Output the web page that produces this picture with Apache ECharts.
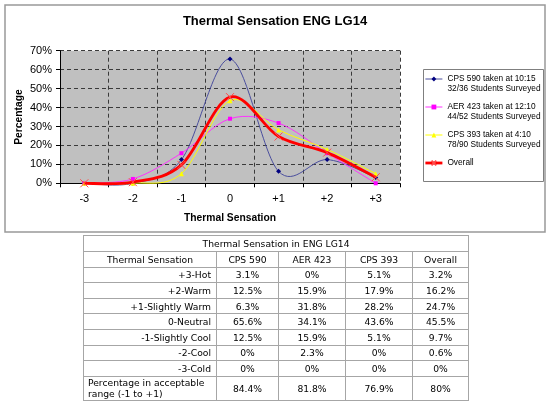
<!DOCTYPE html>
<html>
<head>
<meta charset="utf-8">
<script src="https://cdn.jsdelivr.net/npm/echarts@6/dist/echarts.min.js"></script>
<style>
  html, body { margin: 0; padding: 0; background: #fff; }
  #chart { position: absolute; left: 0; top: 0; width: 550px; height: 403px; }
  #tbl {
    position: absolute; left: 83px; top: 235px; width: 385px;
    border-collapse: collapse; table-layout: fixed;
    font-family: "DejaVu Sans", Verdana, sans-serif; font-size: 9.2px; color: #000;
  }
  #tbl td { border: 1px solid #a6a6a6; padding: 0; height: 14.6px; line-height: 11px; text-align: center; white-space: nowrap; overflow: hidden; }
  #tbl td.lab { text-align: right; padding-right: 5px; }
  #tbl td.lab2 { text-align: left; padding-left: 4px; height: 23px; white-space: normal; line-height: 11px; }
  #tbl tr.ttl td { height: 15px; }
</style>
</head>
<body>
<div id="chart"></div>
<table id="tbl"></table>
<script>
// ---- data ----
const categories = ['-3', '-2', '-1', '0', '+1', '+2', '+3'];
const cps590 = [0, 0, 12.5, 65.6, 6.3, 12.5, 3.1];
const aer423 = [0, 2.3, 15.9, 34.1, 31.8, 15.9, 0];
const cps393 = [0, 0, 5.1, 43.6, 28.2, 17.9, 5.1];
const overall = [0, 0.6, 9.7, 45.5, 24.7, 16.2, 3.2];
const seriesNames = [
  'CPS 590 taken at 10:15\n32/36 Students Surveyed',
  'AER 423 taken at 12:10\n44/52 Students Surveyed',
  'CPS 393 taken at 4:10\n78/90 Students Surveyed',
  'Overall'
];
const tableTitle = 'Thermal Sensation in ENG LG14';
const tableHeaders = ['Thermal Sensation', 'CPS 590', 'AER 423', 'CPS 393', 'Overall'];
const rowLabels = ['+3-Hot', '+2-Warm', '+1-Slightly Warm', '0-Neutral', '-1-Slightly Cool', '-2-Cool', '-3-Cold'];
const acceptableLabel = 'Percentage in acceptable range (-1 to +1)';
const acceptable = [84.4, 81.8, 76.9, 80];
const yTicks = [0, 10, 20, 30, 40, 50, 60, 70];

// ---- table ----
function fmt(v) { return (Math.round(v * 10) / 10) + '%'; }
(function buildTable() {
  const t = document.getElementById('tbl');
  const widths = [133, 62, 67, 67, 56];
  let html = '<colgroup>' + widths.map(w => '<col style="width:' + w + 'px">').join('') + '</colgroup>';
  html += '<tr class="ttl"><td colspan="5">' + tableTitle + '</td></tr>';
  html += '<tr>' + tableHeaders.map(h => '<td>' + h + '</td>').join('') + '</tr>';
  const cols = [cps590, aer423, cps393, overall];
  for (let r = 0; r < rowLabels.length; r++) {
    const idx = categories.length - 1 - r;
    html += '<tr><td class="lab">' + rowLabels[r] + '</td>' +
      cols.map(c => '<td>' + fmt(c[idx]) + '</td>').join('') + '</tr>';
  }
  html += '<tr><td class="lab2">' + acceptableLabel + '</td>' +
    acceptable.map(v => '<td>' + fmt(v) + '</td>').join('') + '</tr>';
  t.innerHTML = html;
})();

// ---- chart ----
const chart = echarts.init(document.getElementById('chart'), null, { renderer: 'canvas' });
const font = '"Liberation Sans", Arial, sans-serif';
const xPath = 'path://M0,0L10,10M10,0L0,10';

const styles = [
  { line: '#4a4e9e', width: 1, symbol: 'diamond', size: 5, color: '#000080', border: null },
  { line: '#ff33ff', width: 1, symbol: 'rect', size: 4, color: '#ff00ff', border: null },
  { line: '#ffff00', width: 1, symbol: 'triangle', size: 5, color: '#ffff00', border: null },
  { line: '#ff0000', width: 2.8, symbol: xPath, size: 8, color: '#ff4a4a', border: '#ff4a4a' }
];
const dataSets = [cps590, aer423, cps393, overall];

// Excel-style smoothed curve (Catmull-Rom Bezier) through points placed by the axes
function curveRenderer(values, st) {
  return function (params, api) {
    if (params.dataIndex !== 0) return null;
    const p = values.map((v, i) => api.coord([i, v]));
    let d = 'M' + p[0][0] + ',' + p[0][1];
    for (let i = 0; i < p.length - 1; i++) {
      const p0 = p[i - 1] || p[i];
      const p1 = p[i];
      const p2 = p[i + 1];
      const p3 = p[i + 2] || p[i + 1];
      const c1x = p1[0] + (p2[0] - p0[0]) / 6, c1y = p1[1] + (p2[1] - p0[1]) / 6;
      const c2x = p2[0] - (p3[0] - p1[0]) / 6, c2y = p2[1] - (p3[1] - p1[1]) / 6;
      d += ' C' + c1x + ',' + c1y + ' ' + c2x + ',' + c2y + ' ' + p2[0] + ',' + p2[1];
    }
    return {
      type: 'path',
      shape: { pathData: d },
      style: { fill: null, stroke: st.line, lineWidth: st.width, lineJoin: 'round' },
      silent: true
    };
  };
}

const series = [];
dataSets.forEach((vals, k) => {
  const st = styles[k];
  series.push({
    type: 'custom', name: seriesNames[k] + ' curve', data: vals.map((v, i) => [i, v]),
    encode: { x: 0, y: 1 }, renderItem: curveRenderer(vals, st), z: 2 + k * 2, silent: true
  });
  const itemStyle = { color: st.color };
  if (st.border) { itemStyle.borderColor = st.border; itemStyle.borderWidth = 1; }
  series.push({
    type: 'line', name: seriesNames[k], data: vals, smooth: false,
    symbol: st.symbol, symbolSize: st.size, showAllSymbol: true,
    lineStyle: { color: st.line, width: st.width, opacity: 0 },
    itemStyle: itemStyle, z: 3 + k * 2
  });
});

chart.setOption({
  animation: false,
  backgroundColor: '#fff',
  title: {
    text: 'Thermal Sensation ENG LG14',
    left: 'center', top: 15, padding: 0,
    textStyle: { fontFamily: font, fontSize: 13, fontWeight: 'bold', color: '#000' }
  },
  graphic: [
    { type: 'rect', shape: { x: 5, y: 5, width: 540, height: 227 }, style: { fill: 'none', stroke: '#999', lineWidth: 1.5 }, z: -1 },
    { type: 'rect', shape: { x: 423.5, y: 69.5, width: 120, height: 112 }, style: { fill: '#fff', stroke: '#7f7f7f', lineWidth: 1 }, z: 0 }
  ],
  legend: {
    orient: 'vertical', left: 424, top: 64, padding: 0, itemGap: -2,
    itemWidth: 17, itemHeight: 6,
    formatter: name => name.indexOf('\n') >= 0 ? '\n' + name : '\n' + name + '\n',
    textStyle: { fontFamily: font, fontSize: 8.3, lineHeight: 10, color: '#000' },
    data: seriesNames.map((n, k) => ({
      name: n,
      lineStyle: { color: styles[k].line, width: styles[k].width, opacity: 1 }
    })),
    z: 5
  },
  grid: { left: 60, right: 150, top: 50.7, bottom: 219.7, show: true, backgroundColor: '#c0c0c0', borderWidth: 0 },
  xAxis: {
    type: 'category', data: categories, boundaryGap: true,
    name: 'Thermal Sensation', nameLocation: 'middle', nameGap: 30,
    nameTextStyle: { fontFamily: font, fontSize: 10.3, fontWeight: 'bold', color: '#000' },
    axisLine: { lineStyle: { color: '#000', width: 1 } },
    axisTick: { show: true, length: 4, alignWithLabel: false, lineStyle: { color: '#000' } },
    axisLabel: { fontFamily: font, fontSize: 11, color: '#000', margin: 10 },
    splitLine: { show: true, lineStyle: { color: '#3a3a3a', type: [4, 3], width: 1 } }
  },
  yAxis: {
    type: 'value', min: 0, max: 70, interval: 10,
    name: 'Percentage', nameLocation: 'middle', nameGap: 35.5, nameRotate: 90,
    nameMoveOverlap: false,
    nameTextStyle: { fontFamily: font, fontSize: 10.3, fontWeight: 'bold', color: '#000' },
    axisLine: { show: true, lineStyle: { color: '#000', width: 1 } },
    axisTick: { show: true, length: 4, lineStyle: { color: '#000' } },
    axisLabel: { fontFamily: font, fontSize: 11, color: '#000', margin: 8, formatter: v => yTicks.includes(v) ? v + '%' : '' },
    splitLine: { show: true, lineStyle: { color: '#3a3a3a', type: [4, 3], width: 1 } }
  },
  series: series
});
</script>
</body>
</html>
